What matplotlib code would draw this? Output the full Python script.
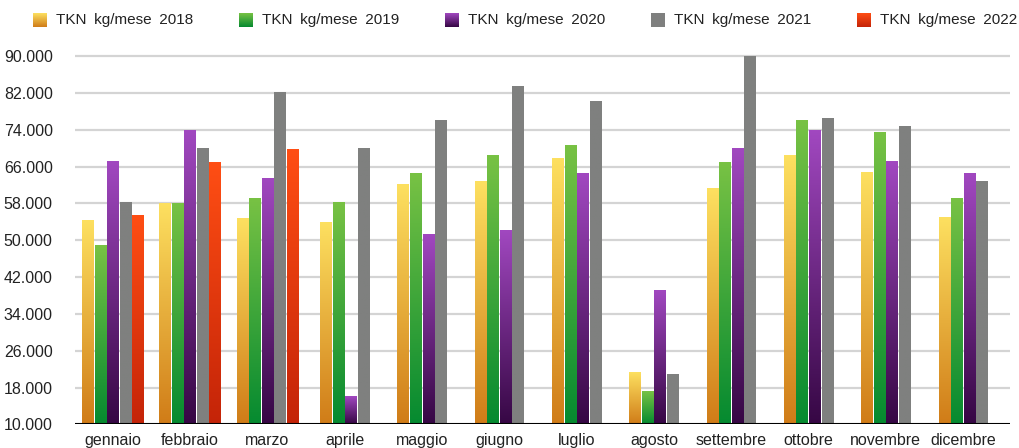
import numpy as np
import matplotlib
matplotlib.use('Agg')
import matplotlib.pyplot as plt
from matplotlib.colors import LinearSegmentedColormap

plt.rcParams['font.family'] = ['Liberation Sans', 'DejaVu Sans']

# dati
mesi = ['gennaio', 'febbraio', 'marzo', 'aprile', 'maggio', 'giugno',
        'luglio', 'agosto', 'settembre', 'ottobre', 'novembre', 'dicembre']
anni = ['2018', '2019', '2020', '2021', '2022']
tkn_2018 = [54100, 57900, 54600, 53700, 61900, 62600, 67600, 21200, 61100, 68400, 64700, 54800]
tkn_2019 = [48700, 57800, 58900, 58200, 64300, 68400, 70400, 17000, 66700, 75800, 73400, 58900]
tkn_2020 = [67100, 73800, 63400, 16000, 51100, 52000, 64300, 38900, 69900, 73800, 67100, 64300]
tkn_2021 = [58000, 69900, 81900, 69900, 76000, 83200, 80100, 20700, 89700, 76400, 74500, 62600]
tkn_2022 = [55200, 66700, 69700, np.nan, np.nan, np.nan, np.nan, np.nan, np.nan, np.nan, np.nan, np.nan]
yticks = [10000, 18000, 26000, 34000, 42000, 50000, 58000, 66000, 74000, 82000, 90000]

serie = [tkn_2018, tkn_2019, tkn_2020, tkn_2021, tkn_2022]
# colori sfumati (sopra, sotto)
colori = [('#FDE060', '#D07C18'),
          ('#78C244', '#058A30'),
          ('#A148C0', '#360744'),
          ('#7F807F', '#7F807F'),
          ('#FF4E14', '#C42408')]

fig = plt.figure(figsize=(10.2, 4.48), dpi=100)
ax = fig.add_axes([0.0735, 0.0525, 0.917, 0.8275])

grad = np.linspace(1, 0, 256).reshape(-1, 1)
slot = 0.162
width = 0.15

for i in range(len(mesi)):
    presenti = [k for k in range(len(serie)) if not np.isnan(serie[k][i])]
    n = len(presenti)
    for j, k in enumerate(presenti):
        xc = i + (j - (n - 1) / 2) * slot
        v = serie[k][i]
        cmap = LinearSegmentedColormap.from_list('c', [colori[k][1], colori[k][0]])
        ax.imshow(grad, cmap=cmap, vmin=0, vmax=1, aspect='auto',
                  extent=(xc - width / 2, xc + width / 2, 10000, v), zorder=3)

ax.set_xlim(-0.49, 11.61)
ax.set_ylim(10000, 90500)

# griglia orizzontale
for t in yticks[1:]:
    ax.axhline(t, color='#d4d4d4', lw=1.6, zorder=1)
ax.axhline(10000, color='black', lw=1.5, zorder=4)

ax.set_yticks(yticks)
ax.set_yticklabels([f'{t:,}'.replace(',', '.') for t in yticks], fontsize=11.5, color='#222222')
ax.set_xticks(range(len(mesi)))
ax.set_xticklabels(mesi, fontsize=11.5, color='#222222')
ax.tick_params(length=0, pad=6)
ax.tick_params(axis='y', pad=16)
for s in ['left', 'right', 'top', 'bottom']:
    ax.spines[s].set_visible(False)

# legenda fatta a mano per avere i quadratini sfumati
for k, anno in enumerate(anni):
    x0 = 33 + k * 206
    lax = fig.add_axes([x0 / 1020, 1 - 27 / 448, 14 / 1020, 14 / 448])
    cmap = LinearSegmentedColormap.from_list('c', [colori[k][1], colori[k][0]])
    lax.imshow(grad, cmap=cmap, vmin=0, vmax=1, aspect='auto')
    lax.axis('off')
    fig.text((x0 + 23) / 1020, 1 - 20 / 448, 'TKN\u2002kg/mese\u2002' + anno,
             fontsize=11, va='center', ha='left', color='#222222')

fig.savefig('out.png', dpi=100)
